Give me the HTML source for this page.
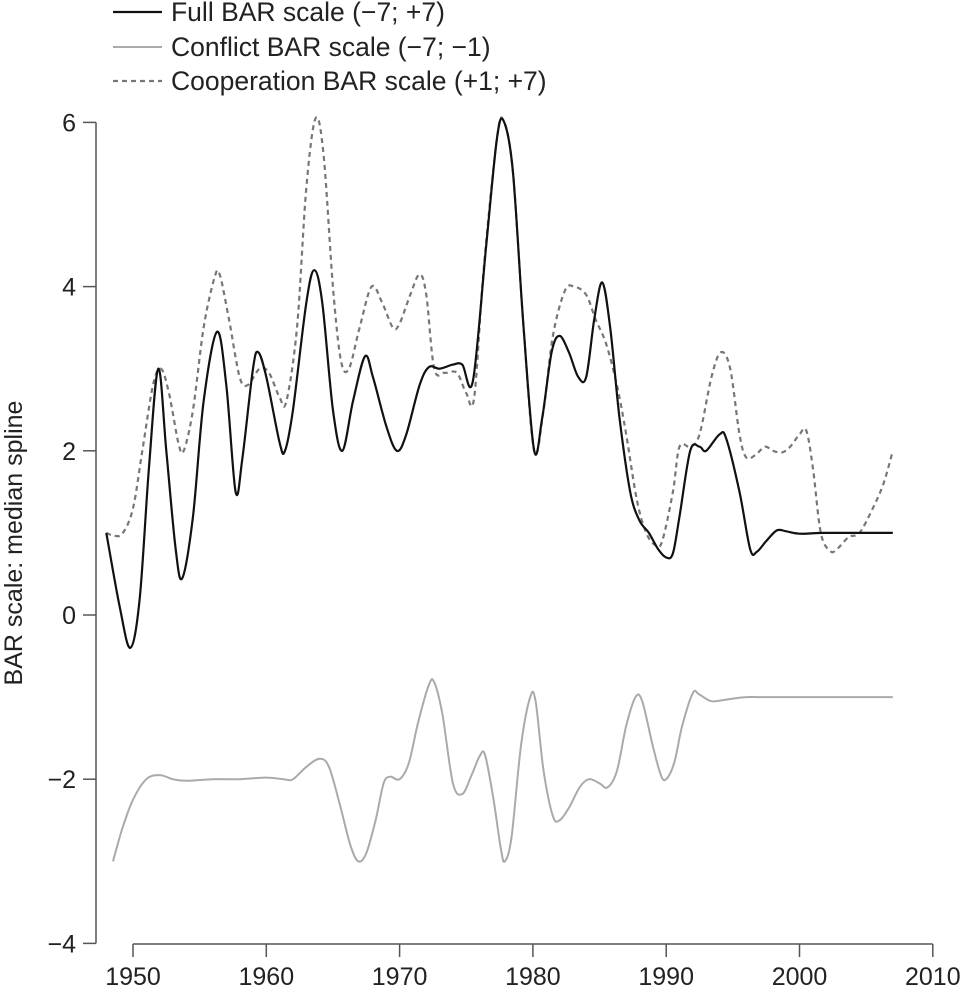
<!DOCTYPE html>
<html><head><meta charset="utf-8"><style>
body{margin:0;background:#fff}
svg{display:block;font-family:"Liberation Sans",Arial,sans-serif}
</style></head><body>
<svg id="chart" width="960" height="986" viewBox="0 0 960 986">
<g id="legend">
 <g><line x1="113" y1="12" x2="162" y2="12" stroke="#111" stroke-width="2.2"/><text x="171" y="21" font-size="26.5" fill="#222">Full BAR scale (−7; +7)</text></g>
 <g><line x1="113" y1="47" x2="162" y2="47" stroke="#aaa" stroke-width="2"/><text x="171" y="56" font-size="26.5" fill="#222">Conflict BAR scale (−7; −1)</text></g>
 <g><line x1="113" y1="81" x2="162" y2="81" stroke="#777" stroke-width="2.2" stroke-dasharray="5,4"/><text x="171" y="90" font-size="26.5" fill="#222">Cooperation BAR scale (+1; +7)</text></g>
</g>
<text transform="translate(22,543) rotate(-90)" text-anchor="middle" font-size="25" fill="#222">BAR scale: median spline</text>
<g id="axes"></g>
<g id="series"></g>
</svg>
<script>
const yTicks=[6,4,2,0,-2,-4];
const xTicks=[1950,1960,1970,1980,1990,2000,2010];
const fullYears=[1948,1949,1949.8,1950.5,1951.2,1951.9,1952.5,1953.2,1953.7,1954.5,1955.3,1956.3,1957,1957.7,1958.2,1959,1959.4,1960,1961,1961.4,1962,1963,1963.6,1964.2,1965,1965.7,1966.5,1967.4,1968,1969,1969.8,1970.5,1971.5,1972.2,1973,1974,1974.7,1975.5,1976.5,1977.3,1977.8,1978.5,1979.3,1980.1,1980.7,1981.4,1982,1982.7,1983.4,1984,1984.6,1985.2,1985.8,1986.5,1987.3,1988,1988.7,1989.4,1990,1990.5,1991,1991.8,1992.5,1993,1994,1994.5,1995.5,1996.3,1996.8,1997.5,1998.3,1999,2000,2002,2007];
const fullValues=[1,0.1,-0.4,0.2,1.8,3.0,2.0,0.8,0.45,1.2,2.6,3.45,2.8,1.5,1.9,3.0,3.2,2.9,2.1,2.0,2.5,3.8,4.2,3.8,2.5,2.0,2.6,3.15,2.9,2.3,2.0,2.2,2.8,3.02,3.0,3.05,3.05,2.85,4.5,5.8,6.02,5.4,3.5,2.0,2.4,3.2,3.4,3.2,2.9,2.9,3.6,4.05,3.5,2.4,1.5,1.15,1.0,0.8,0.7,0.75,1.2,2.0,2.05,2.0,2.2,2.15,1.5,0.8,0.77,0.9,1.03,1.02,0.99,1.0,1.0];
const coopYears=[1948,1948.5,1949.2,1950,1950.7,1951.5,1952.1,1952.7,1953.4,1953.8,1954.5,1955.3,1956.1,1956.5,1957.2,1958,1958.6,1959.5,1960.2,1961,1961.5,1962.3,1963,1963.7,1964.3,1965,1965.6,1966.2,1967,1967.9,1968.7,1969.5,1970,1970.8,1971.5,1972,1972.6,1973.4,1974.3,1975,1975.6,1976.3,1977.3,1977.8,1978.5,1979.3,1980.1,1980.8,1981.5,1982.4,1983.1,1984,1984.7,1985.5,1986.3,1987,1987.8,1988.5,1989.2,1989.7,1990.5,1991,1991.8,1992.5,1993.4,1994.1,1994.8,1995.5,1996,1996.7,1997.4,1998,1998.7,1999.3,2000,2000.5,2001,2001.6,2002.3,2002.8,2003.7,2004.5,2005.5,2006.3,2007];
const coopValues=[1,0.97,0.99,1.3,2.0,2.8,3.0,2.7,2.1,2.0,2.5,3.5,4.1,4.15,3.6,2.9,2.8,3.0,2.95,2.65,2.6,3.5,5.2,6.05,5.6,4.0,3.1,3.0,3.5,4.0,3.8,3.5,3.55,3.9,4.15,3.9,3.0,2.95,2.95,2.7,2.65,4.2,5.8,6.02,5.4,3.5,2.0,2.5,3.4,3.95,4.0,3.9,3.6,3.3,2.8,2.2,1.4,1.0,0.85,0.9,1.5,2.05,2.05,2.2,2.9,3.2,3.0,2.2,1.92,1.95,2.05,2.0,1.98,2.05,2.2,2.25,1.8,1.0,0.78,0.8,0.95,1.0,1.3,1.6,2.0];
const conflictYears=[1948.5,1949.2,1950,1951,1952,1953,1954,1956,1958,1960,1961.3,1962,1963,1964,1964.7,1965.5,1966.3,1966.9,1967.5,1968.2,1968.8,1969.3,1970,1970.7,1971.4,1972.2,1972.6,1973.2,1974,1974.7,1975.4,1976,1976.4,1977,1977.6,1977.9,1978.4,1979.1,1979.8,1980.2,1980.8,1981.5,1982,1982.7,1983.5,1984.2,1985,1985.6,1986.3,1987,1987.7,1988.2,1989,1989.6,1990,1990.6,1991.2,1992,1992.5,1993.4,1994.5,1996,1998,2007];
const conflictValues=[-3.0,-2.6,-2.25,-2.0,-1.95,-2.0,-2.02,-2.0,-2.0,-1.98,-2.0,-2.0,-1.85,-1.75,-1.85,-2.3,-2.8,-3.0,-2.9,-2.5,-2.05,-1.97,-2.0,-1.8,-1.3,-0.85,-0.82,-1.2,-2.05,-2.18,-1.95,-1.72,-1.7,-2.2,-2.85,-3.0,-2.7,-1.6,-1.0,-1.05,-1.9,-2.45,-2.5,-2.35,-2.1,-2.0,-2.05,-2.1,-1.9,-1.35,-1.0,-1.05,-1.6,-1.95,-2.0,-1.8,-1.35,-0.95,-0.97,-1.05,-1.03,-1.0,-1.0,-1.0];

const NS="http://www.w3.org/2000/svg";
function xS(yr){return 133+(yr-1950)*13.33;}
function yS(v){return 615-v*82.1;}
function mk(tag,attrs,parent){const e=document.createElementNS(NS,tag);for(const k in attrs)e.setAttribute(k,attrs[k]);parent.appendChild(e);return e;}
const axes=document.getElementById('axes');
const yAxis=mk('line',{x1:96,y1:yS(6),x2:96,y2:yS(-4),stroke:'#555','stroke-width':1.5},axes);


yTicks.forEach(v=>{
 const t=mk('line',{x1:83,y1:yS(v),x2:96,y2:yS(v),stroke:'#555','stroke-width':1.5},axes);
 
 
 const l=mk('text',{x:76,y:yS(v)+9,'text-anchor':'end','font-size':25,fill:'#222'},axes);
 l.textContent=v<0?'−'+Math.abs(v):String(v);
 
 
});
const xAxis=mk('line',{x1:xS(1950),y1:944,x2:xS(2010),y2:944,stroke:'#555','stroke-width':1.5},axes);


xTicks.forEach(v=>{
 const t=mk('line',{x1:xS(v),y1:944,x2:xS(v),y2:957,stroke:'#555','stroke-width':1.5},axes);
 
 
 const l=mk('text',{x:xS(v),y:985,'text-anchor':'middle','font-size':25,fill:'#222'},axes);
 l.textContent=String(v);
 
 
});
function pathFor(xs,vs){
 const p=xs.map((x,i)=>[xS(x),yS(vs[i])]);
 let d='M'+p[0][0].toFixed(1)+','+p[0][1].toFixed(1);
 for(let i=0;i<p.length-1;i++){
  const p0=p[i-1]||p[i],p1=p[i],p2=p[i+1],p3=p[i+2]||p2;
  const c1=[p1[0]+(p2[0]-p0[0])/6,p1[1]+(p2[1]-p0[1])/6];
  const c2=[p2[0]-(p3[0]-p1[0])/6,p2[1]-(p3[1]-p1[1])/6];
  d+=' C'+c1.map(n=>n.toFixed(1))+' '+c2.map(n=>n.toFixed(1))+' '+p2.map(n=>n.toFixed(1));
 }
 return d;
}
const series=document.getElementById('series');
const conf=mk('path',{d:pathFor(conflictYears,conflictValues),fill:'none',stroke:'#aaa','stroke-width':2},series);


const coop=mk('path',{d:pathFor(coopYears,coopValues),fill:'none',stroke:'#777','stroke-width':2.2,'stroke-dasharray':'5,4'},series);


const full=mk('path',{d:pathFor(fullYears,fullValues),fill:'none',stroke:'#111','stroke-width':2.2},series);


</script>
</body></html>
